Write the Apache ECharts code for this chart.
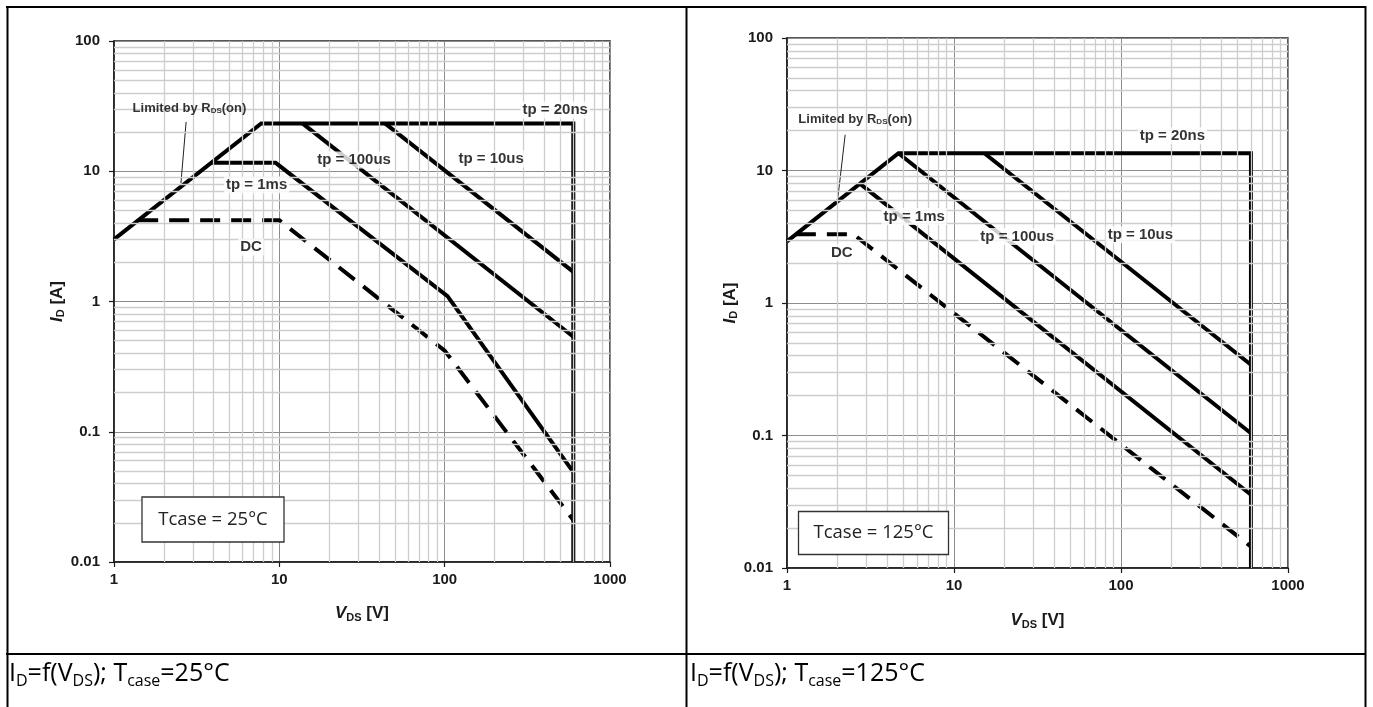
<!DOCTYPE html>
<html>
<head>
<meta charset="utf-8">
<title>SOA</title>
<script src="https://cdn.jsdelivr.net/npm/echarts@6/dist/echarts.min.js"></script>
<style>
  html, body { margin: 0; padding: 0; background: #fff; }
  #main { width: 1373px; height: 707px; }
</style>
</head>
<body>
<div id="main"></div>
<script>
// axis ranges and grid steps
const vdsMin = 1, vdsMax = 1000
const idMin = 0.01, idMax = 100
const minorSteps = [2, 3, 4, 5, 6, 7, 8, 9]
const vdsDecades = [1, 10, 100]
const idDecades = [0.01, 0.1, 1, 10]

// Tcase = 25°C  (VDS [V], ID [A])
const limit25 = [[1, 3.0], [7.77, 23.3], [600, 23.3], [600, 0.01]]
const tp10us25 = [[43.6, 23.3], [600, 1.69]]
const tp100us25 = [[13.8, 23.3], [600, 0.536]]
const tp1ms25 = [[3.87, 11.6], [9.5, 11.6], [104, 1.1], [600, 0.049]]
const dc25 = [[1.4, 4.2], [10, 4.2], [100, 0.42], [600, 0.021]]
const labels25 = [
  [466, 29.5, 'tp = 20ns'],
  [191, 12.4, 'tp = 10us'],
  [28.3, 12.2, 'tp = 100us'],
  [7.29, 7.84, 'tp = 1ms'],
  [6.74, 2.62, 'DC'],
]
const rdsNote25 = [2.86, 30.6]
const leader25 = [[2.73, 23.9], [2.54, 8.1]]

// Tcase = 125°C
const limit125 = [[1, 2.92], [4.65, 13.5], [600, 13.5], [600, 0.01]]
const tp10us125 = [[15.2, 13.5], [600, 0.342]]
const tp100us125 = [[4.65, 13.5], [600, 0.104]]
const tp1ms125 = [[2.72, 8.0], [600, 0.0357]]
const dc125 = [[1.13, 3.3], [2.5, 3.3], [600, 0.0145]]
const labels125 = [
  [203, 18.3, 'tp = 20ns'],
  [130.6, 3.28, 'tp = 10us'],
  [23.9, 3.18, 'tp = 100us'],
  [5.78, 4.5, 'tp = 1ms'],
  [2.13, 2.4, 'DC'],
]
const rdsNote125 = [2.56, 24.2]
const leader125 = [[2.23, 18.6], [2.01, 6.0]]

const ARIAL = "'Liberation Sans', Arial, sans-serif"
const CALIBRI = "'Open Sans', 'Noto Sans', sans-serif"

var myChart = echarts.init(document.getElementById('main'))

function fmt(v) {
  return String(+(+v).toPrecision(6))
}

const axisNameRich = {
  v: { fontFamily: ARIAL, fontWeight: 'bold', fontStyle: 'italic', fontSize: 17, lineHeight: 20, color: '#1a1a1a' },
  s: { fontFamily: ARIAL, fontWeight: 'bold', fontSize: 11, lineHeight: 14, verticalAlign: 'bottom', color: '#1a1a1a' },
  b: { fontFamily: ARIAL, fontWeight: 'bold', fontSize: 17, lineHeight: 20, color: '#1a1a1a' },
}

function xAxisFor(i, gap) {
  return {
    type: 'log', logBase: 10, gridIndex: i, min: vdsMin, max: vdsMax,
    axisLine: { lineStyle: { color: '#1a1a1a', width: 1.5 } },
    axisTick: { show: true, length: 5, lineStyle: { color: '#1a1a1a', width: 1.2 } },
    splitLine: { show: true, lineStyle: { color: '#8c8c8c', width: 1 } },
    axisLabel: { color: '#1a1a1a', fontFamily: ARIAL, fontWeight: 'bold', fontSize: 15, margin: 10, formatter: fmt },
    name: '{v|V}{s|DS}{b| [V]}',
    nameLocation: 'middle',
    nameGap: gap,
    nameTextStyle: { rich: axisNameRich },
  }
}

function yAxisFor(i, gap) {
  return {
    type: 'log', logBase: 10, gridIndex: i, min: idMin, max: idMax,
    axisLine: { lineStyle: { color: '#1a1a1a', width: 1.5 } },
    axisTick: { show: true, length: 5, lineStyle: { color: '#1a1a1a', width: 1.2 } },
    splitLine: { show: true, lineStyle: { color: '#8c8c8c', width: 1 } },
    axisLabel: { color: '#1a1a1a', fontFamily: ARIAL, fontWeight: 'bold', fontSize: 15, margin: 14, formatter: fmt },
    name: '{v|I}{s|D}{b| [A]}',
    nameLocation: 'middle',
    nameGap: gap,
    nameTextStyle: { rich: axisNameRich },
  }
}

function minorGrid(i) {
  const lines = []
  vdsDecades.forEach((d) => minorSteps.forEach((s) => lines.push({ xAxis: d * s })))
  idDecades.forEach((d) => minorSteps.forEach((s) => lines.push({ yAxis: +(d * s).toPrecision(3) })))
  return {
    type: 'line', xAxisIndex: i, yAxisIndex: i, data: [], z: 1, silent: true,
    markLine: {
      silent: true, symbol: ['none', 'none'], animation: false,
      label: { show: false },
      lineStyle: { color: '#cdcdcd', width: 1.3, type: 'solid' },
      emphasis: { disabled: true },
      data: lines,
    },
  }
}

function curve(i, data, dashed) {
  return {
    type: 'line', xAxisIndex: i, yAxisIndex: i, data: data, z: 3,
    symbol: 'none', showSymbol: false, silent: true, animation: false,
    lineStyle: { color: '#000', width: 4, type: dashed ? [20, 11] : 'solid', cap: 'butt', join: 'miter' },
  }
}

function labelSeries(i, list, note) {
  const data = list.map((l) => ({ value: [l[0], l[1]], label: { formatter: l[2] } }))
  data.push({
    value: note,
    label: { formatter: 'Limited by R{s|DS}(on)', fontSize: 13, backgroundColor: 'transparent' },
  })
  return {
    type: 'scatter', xAxisIndex: i, yAxisIndex: i, data: data, z: 5,
    symbolSize: 1, itemStyle: { color: 'rgba(0,0,0,0)' }, silent: true, animation: false,
    label: {
      show: true, position: 'inside', color: '#000',
      fontFamily: ARIAL, fontWeight: 'bold', fontSize: 15,
      backgroundColor: '#fff', padding: [1, 2],
      rich: { s: { fontFamily: ARIAL, fontWeight: 'bold', fontSize: 8, lineHeight: 11, verticalAlign: 'bottom', color: '#000' } },
    },
  }
}

function leader(i, data) {
  return {
    type: 'line', xAxisIndex: i, yAxisIndex: i, data: data, z: 4,
    symbol: 'none', silent: true, animation: false,
    lineStyle: { color: '#222', width: 1 },
  }
}

function tableLine(x1, y1, x2, y2) {
  return { type: 'line', z: 100, silent: true, shape: { x1, y1, x2, y2 }, style: { stroke: '#000', lineWidth: 2 } }
}

function tcaseBox(x, y, w, h, txt) {
  return [
    { type: 'rect', z: 90, silent: true, shape: { x, y, width: w, height: h }, style: { fill: '#fff', stroke: '#333', lineWidth: 1.3 } },
    { type: 'text', z: 91, silent: true, x: x + w / 2, y: y + h / 2,
      style: { text: txt, fill: '#222', font: '18.5px ' + CALIBRI, align: 'center', verticalAlign: 'middle' } },
  ]
}

function caption(x, y, temp) {
  return {
    type: 'text', z: 100, silent: true, x, y,
    style: {
      text: '{n|I}{s|D}{n|=f(V}{s|DS}{n|); T}{s|case}{n|=' + temp + '°C}',
      verticalAlign: 'middle', align: 'left',
      rich: {
        n: { font: '25px ' + CALIBRI, lineHeight: 30, fill: '#000' },
        s: { font: '16px ' + CALIBRI, lineHeight: 22, verticalAlign: 'bottom', fill: '#000' },
      },
    },
  }
}

let option = {
  backgroundColor: '#fff',
  animation: false,
  grid: [
    { left: 114, top: 41, width: 496, height: 521, show: true, borderColor: '#222', borderWidth: 1.5, backgroundColor: '#fff' },
    { left: 787, top: 38, width: 501, height: 530, show: true, borderColor: '#222', borderWidth: 1.5, backgroundColor: '#fff' },
  ],
  xAxis: [xAxisFor(0, 41), xAxisFor(1, 42)],
  yAxis: [yAxisFor(0, 46), yAxisFor(1, 41)],
  series: [
    minorGrid(0),
    curve(0, limit25), curve(0, tp10us25), curve(0, tp100us25), curve(0, tp1ms25), curve(0, dc25, true),
    leader(0, leader25),
    labelSeries(0, labels25, rdsNote25),
    minorGrid(1),
    curve(1, limit125), curve(1, tp10us125), curve(1, tp100us125), curve(1, tp1ms125), curve(1, dc125, true),
    leader(1, leader125),
    labelSeries(1, labels125, rdsNote125),
  ],
  graphic: [
    tableLine(6, 7, 1366, 7),
    tableLine(7.5, 6, 7.5, 707),
    tableLine(1365.5, 6, 1365.5, 707),
    tableLine(686.5, 6, 686.5, 707),
    tableLine(6, 654, 1366, 654),
    ...tcaseBox(142, 497, 142, 45, 'Tcase = 25°C'),
    ...tcaseBox(798.5, 511.5, 150, 43, 'Tcase = 125°C'),
    caption(9, 674, '25'),
    caption(690, 674, '125'),
  ],
}
myChart.setOption(option)
</script>
</body>
</html>
